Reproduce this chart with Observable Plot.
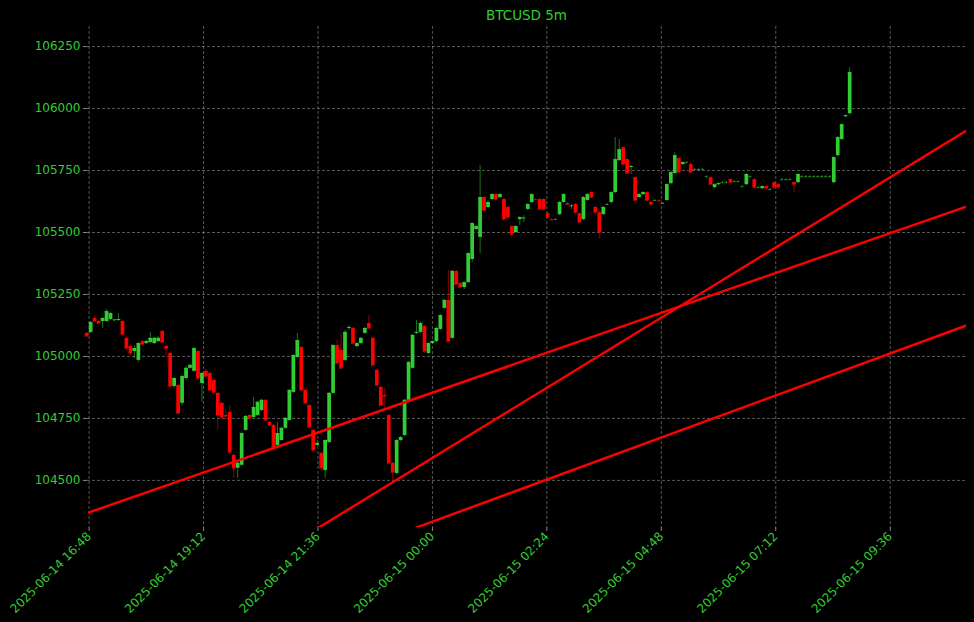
<!DOCTYPE html>
<html><head><meta charset="utf-8">
<script src="https://cdn.jsdelivr.net/npm/d3@7"></script>
<script src="https://cdn.jsdelivr.net/npm/@observablehq/plot@0.6"></script>
<style>
html,body{margin:0;padding:0;background:#000;}
#title{height:24px;box-sizing:border-box;padding-top:6px;padding-left:87px;padding-right:8px;text-align:center;color:#32cd32;font:13.5px "DejaVu Sans",sans-serif;line-height:18px;}
</style></head><body>
<div id="title">BTCUSD 5m</div>
<div id="chart"></div>
<script>
// ---- data ----
const startTime = "2025-06-14T16:45:00Z";   // first 5m candle
const intervalMinutes = 5;
const axisStart = "2025-06-14T16:46:00Z";
const axisEnd = "2025-06-15T11:12:00Z";
const trendStart = "2025-06-14T16:48:00Z";

const open = [
105093,105097,105153,105141,105141,105141,105149,105145,105145,105141,
105073,105040,105020,104984,105060,105052,105056,105052,105060,105101,
105040,105012,104879,104883,104811,104911,104952,104940,105020,104891,
104940,104931,104903,104851,104811,104762,104774,104601,104549,104561,
104702,104762,104754,104762,104782,104823,104734,104722,104641,104661,
104710,104742,104855,104996,105036,104863,104802,104702,104641,104609,
104540,104653,104851,105044,105024,104984,105113,105113,105040,105052,
105093,105133,105073,104944,104875,104843,104762,104569,104528,104661,
104681,104823,104952,105093,105097,105121,105012,105052,105060,105109,
105194,105226,105073,105343,105294,105278,105298,105391,105512,105480,
105641,105601,105633,105653,105641,105633,105601,105524,105500,105552,
105556,105593,105621,105633,105633,105633,105576,105552,105552,105572,
105621,105617,105605,105613,105576,105552,105629,105661,105601,105580,105572,
105613,105621,105661,105790,105842,105794,105762,105721,105641,105653,
105661,105621,105629,105629,105617,105629,105697,105738,105798,105774,
105782,105774,105754,105754,105754,105725,105721,105681,105693,105701,
105701,105713,105705,105705,105685,105693,105725,105713,105681,105677,
105685,105673,105701,105693,105713,105713,105713,105701,105701,105725,
105725,105725,105725,105725,105725,105725,105725,105701,105810,105875,105967,
105979];

const close = [
105081,105137,105141,105133,105153,105181,105173,105147,105149,105089,
105032,105012,105032,105052,105048,105060,105073,105073,105073,105056,
105032,104879,104911,104770,104919,104952,104964,105032,104911,104931,
104919,104863,104855,104762,104754,104758,104613,104549,104569,104689,
104758,104750,104794,104815,104823,104742,104722,104633,104689,104710,
104750,104863,105004,105064,104863,104811,104714,104621,104649,104549,
104661,104851,105044,104972,104952,105097,105117,105052,105052,105073,
105113,105113,104964,104883,104802,104839,104569,104532,104661,104673,
104823,104976,105085,105097,105133,105020,105052,105060,105113,105165,
105226,105060,105343,105290,105278,105298,105415,105536,105524,105641,
105588,105621,105653,105633,105653,105552,105560,105492,105524,105560,
105558,105613,105653,105631,105593,105593,105560,105550,105552,105621,
105653,105613,105607,105580,105540,105641,105653,105641,105580,105500,105601,
105613,105661,105794,105834,105774,105738,105766,105629,105653,105661,
105629,105613,105629,105627,105617,105693,105742,105810,105742,105782,
105782,105742,105754,105754,105754,105725,105693,105693,105697,105701,
105701,105701,105705,105705,105685,105734,105725,105681,105681,105685,
105677,105673,105681,105681,105713,105713,105713,105693,105734,105725,
105725,105725,105725,105725,105725,105725,105725,105802,105883,105935,105971,
106145];

const high = [
105097,105141,105161,105145,105157,105190,105177,105149,105173,105145,
105081,105044,105044,105056,105064,105064,105097,105077,105081,105105,
105044,105016,104915,104887,104923,104960,104968,105036,105024,104936,
104948,104936,104911,104855,104815,104782,104802,104605,104573,104694,
104762,104766,104835,104819,104827,104827,104738,104726,104734,104714,
104754,104867,105008,105093,105040,104867,104807,104706,104661,104613,
104665,104855,105048,105064,105093,105105,105125,105117,105056,105077,
105117,105165,105077,104948,104879,104871,104766,104573,104665,104677,
104827,104980,105089,105145,105141,105125,105056,105064,105117,105169,
105230,105347,105347,105347,105298,105302,105419,105540,105528,105770,
105645,105629,105657,105657,105657,105637,105605,105528,105528,105564,
105568,105617,105657,105637,105637,105637,105580,105556,105556,105625,
105657,105621,105613,105617,105580,105645,105657,105665,105605,105584,105605,
105617,105665,105883,105875,105846,105798,105770,105725,105657,105665,
105665,105625,105633,105633,105621,105697,105746,105822,105802,105786,
105786,105782,105758,105758,105758,105729,105725,105697,105701,105705,
105705,105717,105709,105709,105689,105738,105729,105717,105685,105689,
105689,105677,105705,105697,105717,105717,105717,105705,105738,105729,
105729,105729,105729,105729,105729,105729,105729,105806,105887,105939,105975,
106165];

const low = [
105077,105093,105137,105129,105113,105137,105145,105141,105141,105085,
105028,105004,104992,104976,105044,105048,105052,105048,105056,105052,
105004,104875,104871,104766,104802,104903,104948,104936,104903,104815,
104915,104859,104851,104702,104746,104742,104609,104508,104508,104557,
104698,104746,104750,104758,104778,104738,104718,104629,104633,104657,
104706,104738,104851,104992,104859,104807,104710,104613,104637,104540,
104508,104649,104847,104968,104948,104980,105105,105048,105036,105048,
105089,105109,104960,104879,104798,104782,104565,104500,104524,104657,
104677,104819,104948,105089,105093,105012,105008,105048,105056,105105,
105190,105056,105069,105286,105274,105270,105294,105379,105508,105415,
105584,105597,105629,105629,105637,105548,105556,105480,105496,105528,
105540,105588,105617,105629,105588,105588,105556,105548,105548,105568,
105617,105609,105593,105576,105536,105548,105625,105637,105576,105472,105568,
105609,105617,105657,105786,105770,105734,105734,105613,105637,105649,
105625,105609,105625,105625,105613,105625,105693,105734,105738,105770,
105778,105738,105750,105750,105750,105721,105689,105677,105689,105697,
105697,105697,105701,105701,105681,105689,105721,105677,105677,105673,
105673,105669,105677,105677,105709,105709,105709,105661,105697,105721,
105721,105721,105721,105721,105721,105721,105721,105697,105806,105871,105963,
105975];

// trend lines: price at trendStart and at axisEnd
const trendNames = ["Trend 1", "Trend 2", "Trend 3"];
const trendStartPrice = [104371, 103742, 103825];
const trendEndPrice = [105605, 105911, 105125];

const xTickLabels = ["2025-06-14 16:48","2025-06-14 19:12","2025-06-14 21:36","2025-06-15 00:00",
  "2025-06-15 02:24","2025-06-15 04:48","2025-06-15 07:12","2025-06-15 09:36"];
const yTicks = [104500,104750,105000,105250,105500,105750,106000,106250];
const yDomain = [104310, 106331];

// ---- build ----
const GREEN = "#32cd32", RED = "#ff0000";
const MIN = 60000;
const t0 = new Date(startTime).getTime();
const parse = d3.utcParse("%Y-%m-%d %H:%M");
const xTickDates = xTickLabels.map(parse);

const candles = open.map((o, i) => ({
  t: new Date(t0 + i * intervalMinutes * MIN),
  open: o, close: close[i], high: high[i], low: low[i],
  color: close[i] >= o ? GREEN : RED
}));

const trendRows = [];
trendNames.forEach((n, i) => {
  trendRows.push({name: n, t: new Date(trendStart), p: trendStartPrice[i]});
  trendRows.push({name: n, t: new Date(axisEnd), p: trendEndPrice[i]});
});

const gridStyle = {stroke: "#b8b8b8", strokeOpacity: 0.6, strokeDasharray: "3,2", strokeWidth: 0.8};

const chart = Plot.plot({
  width: 974, height: 598,
  marginLeft: 87, marginRight: 8, marginTop: 2, marginBottom: 95,
  style: {background: "#000", color: GREEN, fontFamily: "DejaVu Sans, sans-serif", fontSize: "12px", overflow: "visible"},
  x: {type: "utc", domain: [new Date(axisStart), new Date(axisEnd)]},
  y: {domain: yDomain},
  color: {type: "identity"},
  marks: [
    Plot.gridX(xTickDates, gridStyle),
    Plot.gridY(yTicks, gridStyle),
    Plot.axisX(xTickDates, {tickFormat: d3.utcFormat("%Y-%m-%d %H:%M"), tickRotate: -45, tickSize: 4, tickPadding: 3, stroke: "#888", label: null}),
    Plot.axisY(yTicks, {tickFormat: d3.format("d"), tickSize: 4, tickPadding: 3, stroke: "#888", label: null}),
    Plot.ruleX(candles, {x: "t", y1: "low", y2: "high", stroke: "color", strokeWidth: 1, strokeOpacity: 0.55}),
    Plot.ruleY(candles, {y: "close", x1: d => new Date(+d.t - 2 * MIN), x2: d => new Date(+d.t + 2 * MIN), stroke: "color", strokeOpacity: 0.6, strokeWidth: 1}),
    Plot.ruleX(candles, {x: "t", y1: "open", y2: "close", stroke: "color", strokeWidth: 3.7}),
    Plot.line(trendRows, {x: "t", y: "p", z: "name", stroke: RED, strokeWidth: 2.4, clip: true})
  ]
});
document.getElementById("chart").appendChild(chart);
</script>
</body></html>
